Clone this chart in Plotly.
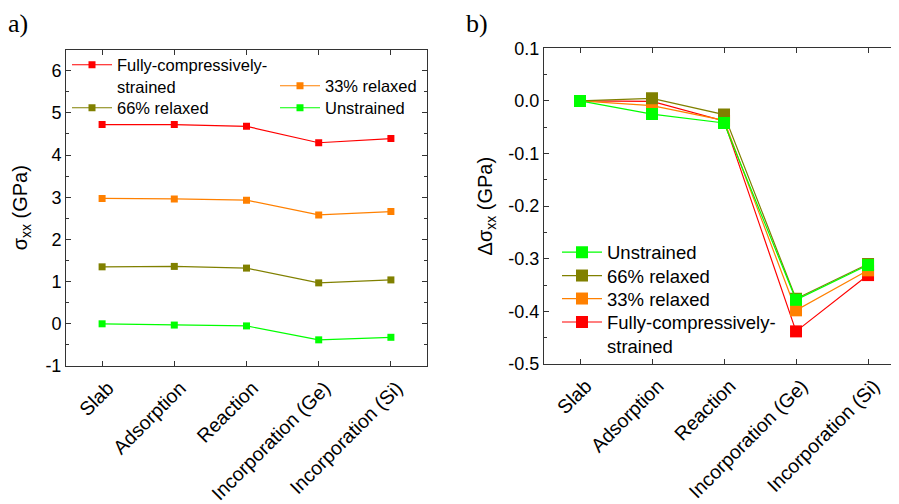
import plotly.graph_objects as go

categories = ["Slab", "Adsorption", "Reaction", "Incorporation (Ge)", "Incorporation (Si)"]

# panel a) sigma_xx (GPa)
sxx_fully = [4.72, 4.72, 4.68, 4.29, 4.39]
sxx_33 = [2.97, 2.96, 2.93, 2.58, 2.66]
sxx_66 = [1.35, 1.36, 1.32, 0.97, 1.04]
sxx_unstr = [0.00, -0.03, -0.05, -0.38, -0.32]

# panel b) delta sigma_xx (GPa)
d_fully = [0.0, -0.001, -0.038, -0.438, -0.331]
d_33 = [0.0, -0.009, -0.037, -0.398, -0.322]
d_66 = [0.0, 0.005, -0.026, -0.376, -0.310]
d_unstr = [0.0, -0.025, -0.042, -0.378, -0.312]

names = {"fully": "Fully-compressively-<br>strained", "r33": "33% relaxed",
         "r66": "66% relaxed", "unstr": "Unstrained"}
colors = {"fully": "#FF0000", "r33": "#FF8000", "r66": "#808000", "unstr": "#00FF00"}

left_ticks = [-1, 0, 1, 2, 3, 4, 5, 6]
left_ticktext = ["-1", "0", "1", "2", "3", "4", "5", "6"]
right_ticks = [-0.5, -0.4, -0.3, -0.2, -0.1, 0.0, 0.1]
right_ticktext = ["-0.5", "-0.4", "-0.3", "-0.2", "-0.1", "0.0", "0.1"]

# page body has an 8px default margin: work in screen pixels and convert
OFF = 8
W, H = 899 - OFF, 504 - OFF
ml, mt = 66 - OFF, 48 - OFF
plot_bottom = 366 - OFF
mb = H - plot_bottom
mr = 0
pw = W - ml - mr
ph = H - mt - mb


def fx(px):
    return (px - OFF - ml) / pw


def fy(py):
    return (plot_bottom - (py - OFF)) / ph


fig = go.Figure()

# left panel traces
for key, vals, leg in [("fully", sxx_fully, "legend"), ("r66", sxx_66, "legend4"),
                       ("r33", sxx_33, "legend2"), ("unstr", sxx_unstr, "legend5")]:
    fig.add_trace(go.Scatter(
        x=categories, y=vals, name=names[key], mode="lines+markers",
        line=dict(color=colors[key], width=1.2),
        marker=dict(symbol="square", size=7, color=colors[key]),
        xaxis="x", yaxis="y", legend=leg, showlegend=True))

# right panel traces (Unstrained drawn last, on top)
for key, vals, leg in [("fully", d_fully, "legend8"), ("r33", d_33, "legend7"),
                       ("r66", d_66, "legend6"), ("unstr", d_unstr, "legend3")]:
    fig.add_trace(go.Scatter(
        x=categories, y=vals, name=names[key], mode="lines+markers",
        line=dict(color=colors[key], width=1.2),
        marker=dict(symbol="square", size=12, color=colors[key]),
        xaxis="x2", yaxis="y2", legend=leg, showlegend=True))

axcol = "#333333"
tickfont = dict(family="Liberation Sans, Arial", size=19.5, color="black")
common_x = dict(type="category", showline=True, linecolor=axcol, linewidth=1, mirror="ticks",
                ticks="inside", ticklen=5, tickcolor=axcol, tickangle=-45, tickfont=tickfont,
                ticklabelstandoff=2, ticklabelshift=6,
                showgrid=False, zeroline=False, automargin=False)
common_y = dict(showline=True, linecolor=axcol, linewidth=1, ticks="inside", ticklen=5,
                tickcolor=axcol, showgrid=False, zeroline=False, automargin=False,
                tickfont=dict(family="Liberation Sans, Arial", size=18, color="black"))


def leg(px_marker, py_center, size, valign="middle"):
    return dict(x=fx(px_marker - 24), y=fy(py_center), xanchor="left", yanchor="middle",
                bgcolor="rgba(0,0,0,0)", itemwidth=40, valign=valign,
                font=dict(family="Liberation Sans, Arial", size=size))


fig.update_layout(
    width=W, height=H, margin=dict(l=ml, r=mr, t=mt, b=mb),
    paper_bgcolor="white", plot_bgcolor="white", showlegend=True,
    font=dict(family="Liberation Sans, Arial", color="black"),
    xaxis=dict(domain=[0, fx(427)], range=[-0.5, 4.5], anchor="y", **common_x),
    yaxis=dict(domain=[0, fy(49.5)], range=[-1, 6.5], anchor="x", mirror="ticks",
               tickvals=left_ticks, ticktext=left_ticktext,
               minor=dict(ticks="inside", ticklen=3, dtick=0.5, tickcolor=axcol),
               title=dict(text="σ<sub>xx</sub> (GPa)", standoff=12,
                          font=dict(family="Liberation Sans, Arial", size=20)),
               **common_y),
    xaxis2=dict(domain=[fx(544), 1], range=[-0.5, 4.43], anchor="y2", **common_x),
    yaxis2=dict(domain=[fy(364), fy(48.3)], range=[-0.5, 0.1], anchor="x2", mirror=False,
                tickvals=right_ticks, ticktext=right_ticktext,
                minor=dict(ticks="inside", ticklen=3, dtick=0.05, tickcolor=axcol),
                title=dict(text="Δσ<sub>xx</sub> (GPa)", standoff=10,
                           font=dict(family="Liberation Sans, Arial", size=20)),
                **common_y),
    legend=leg(91, 75.5, 16.5, "top"),
    legend4=leg(91, 108, 16.5),
    legend2=leg(299, 86, 16.5),
    legend5=leg(299, 108, 16.5),
    legend3=leg(581, 252.7, 18.5),
    legend6=leg(581, 276, 18.5),
    legend7=leg(581, 299, 18.5),
    legend8=leg(581, 334.5, 18.5, "top"),
    annotations=[
        dict(text="a)", x=fx(7), y=fy(8), xref="paper", yref="paper", showarrow=False,
             xanchor="left", yanchor="top", borderpad=0,
             font=dict(family="Liberation Serif, Times New Roman", size=26, color="black")),
        dict(text="b)", x=fx(465), y=fy(8), xref="paper", yref="paper", showarrow=False,
             xanchor="left", yanchor="top", borderpad=0,
             font=dict(family="Liberation Serif, Times New Roman", size=26, color="black")),
    ],
)

fig.write_html("out.html")
